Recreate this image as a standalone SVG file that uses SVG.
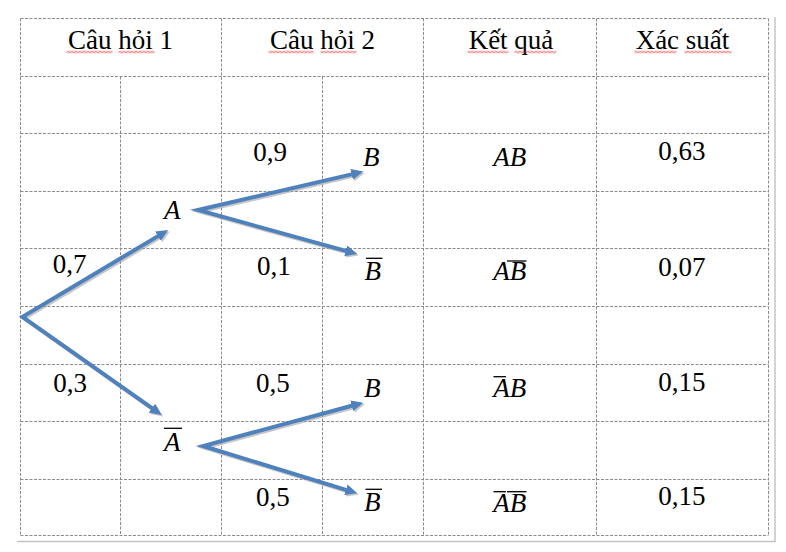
<svg xmlns="http://www.w3.org/2000/svg" width="786" height="552" viewBox="0 0 786 552">
<style>
.grid{stroke:#8c8c8c;stroke-width:1;stroke-dasharray:3 1.5;fill:none}
.page{stroke:#c4c4c4;stroke-width:1.5;fill:none}
.t{font-family:"Liberation Serif","Times New Roman",serif;font-size:27px;fill:#000}
.h{text-anchor:middle}
.i{font-style:italic}
.bar{stroke:#000;stroke-width:1.3}
.arr{fill:none;stroke:#4f81bd;stroke-width:4;stroke-linejoin:miter;stroke-miterlimit:10;marker-start:url(#ah);marker-end:url(#ah)}
.shd{fill:none;stroke:#a0a0a0;stroke-opacity:.6;stroke-width:4;stroke-linejoin:miter;stroke-miterlimit:10;marker-start:url(#ahs);marker-end:url(#ahs)}
</style>
<defs>
<marker id="ah" markerUnits="userSpaceOnUse" viewBox="0 -6 12 12" refX="1" refY="0" markerWidth="12" markerHeight="12" orient="auto-start-reverse">
<path d="M0,-5.5 L12,0 L0,5.5 z" fill="#4f81bd"/>
</marker>
<marker id="ahs" markerUnits="userSpaceOnUse" viewBox="0 -6 12 12" refX="1" refY="0" markerWidth="12" markerHeight="12" orient="auto-start-reverse">
<path d="M0,-5.5 L12,0 L0,5.5 z" fill="#a0a0a0" fill-opacity=".6"/>
</marker>
<pattern id="wave" patternUnits="userSpaceOnUse" x="0" y="50.5" width="4" height="3">
<path d="M0,0.6 L2,2.4 L4,0.6" fill="none" stroke="#e02020" stroke-width="0.9"/>
</pattern>
</defs>
<rect width="786" height="552" fill="#fff"/>
<g id="page-border">
<line class="page" x1="775" y1="17" x2="775" y2="541.5"/>
<line class="page" x1="17" y1="541.5" x2="775.7" y2="541.5"/>
</g>
<g id="table-grid">
<line class="grid" x1="20.5" y1="18.5" x2="768.5" y2="18.5"/>
<line class="grid" x1="20.5" y1="76.5" x2="768.5" y2="76.5"/>
<line class="grid" x1="20.5" y1="133.5" x2="768.5" y2="133.5"/>
<line class="grid" x1="20.5" y1="191.5" x2="768.5" y2="191.5"/>
<line class="grid" x1="20.5" y1="248.5" x2="768.5" y2="248.5"/>
<line class="grid" x1="20.5" y1="306.5" x2="768.5" y2="306.5"/>
<line class="grid" x1="20.5" y1="364.5" x2="768.5" y2="364.5"/>
<line class="grid" x1="20.5" y1="421.5" x2="768.5" y2="421.5"/>
<line class="grid" x1="20.5" y1="479.5" x2="768.5" y2="479.5"/>
<line class="grid" x1="20.5" y1="535.5" x2="768.5" y2="535.5"/>
<line class="grid" x1="20.5" y1="18.5" x2="20.5" y2="535.5"/>
<line class="grid" x1="120.5" y1="76.5" x2="120.5" y2="535.5"/>
<line class="grid" x1="221.5" y1="18.5" x2="221.5" y2="535.5"/>
<line class="grid" x1="322.5" y1="76.5" x2="322.5" y2="535.5"/>
<line class="grid" x1="423.5" y1="18.5" x2="423.5" y2="535.5"/>
<line class="grid" x1="596.5" y1="18.5" x2="596.5" y2="535.5"/>
<line class="grid" x1="768.5" y1="18.5" x2="768.5" y2="535.5"/>
</g>
<g id="headers">
<text class="t h" x="120.5" y="49.3">Câu hỏi 1</text>
<text class="t h" x="322.5" y="49.3">Câu hỏi 2</text>
<text class="t h" x="511" y="49.3">Kết quả</text>
<text class="t h" x="682.5" y="49.3">Xác suất</text>
<rect x="66.5" y="50.5" width="46" height="3" fill="url(#wave)"/>
<rect x="118.5" y="50.5" width="36" height="3" fill="url(#wave)"/>
<rect x="268.5" y="50.5" width="45" height="3" fill="url(#wave)"/>
<rect x="320.5" y="50.5" width="36" height="3" fill="url(#wave)"/>
<rect x="467.5" y="50.5" width="41" height="3" fill="url(#wave)"/>
<rect x="514.5" y="50.5" width="42" height="3" fill="url(#wave)"/>
<rect x="634.5" y="50.5" width="42" height="3" fill="url(#wave)"/>
<rect x="684.5" y="50.5" width="47" height="3" fill="url(#wave)"/>
</g>
<g id="connectors">
<g transform="translate(1.5,1.5)">
<path class="shd" d="M158.8,235.6 L22.5,316.8 L152.7,408.7"/>
<path class="shd" d="M352.6,174.1 L198,210 L346.7,251.1"/>
<path class="shd" d="M352.7,405.5 L203,446 L346.8,490.1"/>
</g>
<path class="arr" d="M158.8,235.6 L22.5,316.8 L152.7,408.7"/>
<path class="arr" d="M352.6,174.1 L198,210 L346.7,251.1"/>
<path class="arr" d="M352.7,405.5 L203,446 L346.8,490.1"/>
</g>
<g id="node-A">
<text class="t i" x="164" y="219">A</text>
</g>
<g id="node-notA">
<text class="t i" x="164" y="450.7">A</text>
<line class="bar" x1="164" y1="428.3" x2="182" y2="428.3"/>
</g>
<g id="node-B1">
<text class="t i" x="363" y="166">B</text>
</g>
<g id="node-notB1">
<text class="t i" x="364.5" y="280">B</text>
<line class="bar" x1="366" y1="258.3" x2="382.5" y2="258.3"/>
</g>
<g id="node-B2">
<text class="t i" x="364" y="396.7">B</text>
</g>
<g id="node-notB2">
<text class="t i" x="364" y="510.7">B</text>
<line class="bar" x1="365.5" y1="489.3" x2="382" y2="489.3"/>
</g>
<g id="probabilities">
<text class="t" x="52.7" y="272.7">0,7</text>
<text class="t" x="53.3" y="391.7">0,3</text>
<text class="t" x="253.3" y="160.7">0,9</text>
<text class="t" x="257" y="275">0,1</text>
<text class="t" x="256" y="391.7">0,5</text>
<text class="t" x="256" y="506">0,5</text>
</g>
<g id="results">
<text class="t i" x="493.3" y="166">AB</text>
<text class="t i" x="493.3" y="280">AB</text>
<line class="bar" x1="507" y1="261" x2="526.5" y2="261"/>
<text class="t i" x="493.3" y="396.7">AB</text>
<line class="bar" x1="493.5" y1="376.7" x2="506" y2="376.7"/>
<text class="t i" x="493.3" y="511.7">AB</text>
<line class="bar" x1="493.5" y1="491.7" x2="506" y2="491.7"/>
<line class="bar" x1="507" y1="491.7" x2="526.5" y2="491.7"/>
</g>
<g id="outcome-probabilities">
<text class="t" x="658.3" y="160">0,63</text>
<text class="t" x="658.3" y="276">0,07</text>
<text class="t" x="658.3" y="390.7">0,15</text>
<text class="t" x="658.3" y="505">0,15</text>
</g>
</svg>
